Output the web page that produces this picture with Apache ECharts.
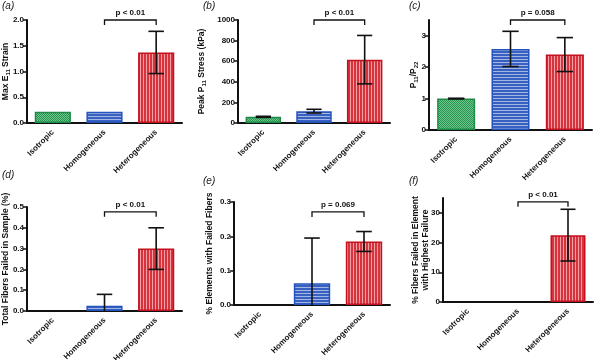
<!DOCTYPE html>
<html>
<head>
<meta charset="utf-8">
<script src="https://cdn.jsdelivr.net/npm/echarts@6/dist/echarts.min.js"></script>
<style>
  html, body { margin: 0; padding: 0; background: #fff; }
  #chart { width: 600px; height: 360px; }
</style>
</head>
<body>
<div id="chart"></div>
<script>
const categories = ['Isotropic', 'Homogeneous', 'Heterogeneous'];

// mean and error (SD) per panel
const strainMean = [0.22, 0.22, 1.37];
const strainSd = [0, 0, 0.41];
const stressMean = [60, 115, 615];
const stressSd = [5, 18, 235];
const ratioMean = [1.0, 2.58, 2.4];
const ratioSd = [0.01, 0.56, 0.54];
const totalFailMean = [0, 0.025, 0.30];
const totalFailSd = [0, 0.055, 0.10];
const elemFailMean = [0, 0.063, 0.185];
const elemFailSd = [0, 0.132, 0.029];
const highFailMean = [0, 0, 22.5];
const highFailSd = [0, 0, 8.7];

const pLabels = ['p < 0.01', 'p < 0.01', 'p = 0.058', 'p < 0.01', 'p = 0.069', 'p < 0.01'];
const bracketLevel = [2.0, 1000, 3.5, 0.477, 0.271, 33.7];

const yMax = [2, 1000, 3.5, 0.5, 0.3, 35];
const yInterval = [0.5, 200, 1, 0.1, 0.1, 10];
const yDecimals = [1, 0, 0, 1, 1, 0];
const panelLetters = ['(a)', '(b)', '(c)', '(d)', '(e)', '(f)'];

const FONT = '"Liberation Sans", Arial, sans-serif';

function makePattern(w, h, draw) {
  const c = document.createElement('canvas');
  c.width = w; c.height = h;
  draw(c.getContext('2d'));
  return { image: c, repeat: 'repeat' };
}
const greenFill = makePattern(2, 2, function (g) {
  g.fillStyle = '#72c48f'; g.fillRect(0, 0, 2, 2);
  g.fillStyle = '#25944f'; g.fillRect(0, 0, 1, 1); g.fillRect(1, 1, 1, 1);
});
const blueFill = makePattern(1, 3, function (g) {
  g.fillStyle = '#3860c0'; g.fillRect(0, 0, 1, 3);
  g.fillStyle = '#a3b6e4'; g.fillRect(0, 2, 1, 1);
});
const redFill = makePattern(3, 1, function (g) {
  g.fillStyle = '#d6333d'; g.fillRect(0, 0, 3, 1);
  g.fillStyle = '#f0a0a4'; g.fillRect(2, 0, 1, 1);
});
const barColors = [greenFill, blueFill, redFill];
const barBorders = ['#1f8a47', '#2454bd', '#c4101f'];

const panels = [
  { mean: strainMean, sd: strainSd, name: 'Max E{sub|11} Strain', gap: 16 },
  { mean: stressMean, sd: stressSd, name: 'Peak P{sub|11} Stress (kPa)', gap: 31 },
  { mean: ratioMean, sd: ratioSd, name: 'P{sub|11}/P{sub|22}', gap: 10 },
  { mean: totalFailMean, sd: totalFailSd, name: 'Total Fibers Failed in Sample (%)', gap: 16 },
  { mean: elemFailMean, sd: elemFailSd, name: '% Elements with Failed Fibers', gap: 19 },
  { mean: highFailMean, sd: highFailSd, name: '% Fibers Failed in Element\nwith Highest Failure', gap: 12 }
];

const grids = [
  { left: 27, top: 20, width: 155, height: 103 },
  { left: 238, top: 20, width: 152, height: 103 },
  { left: 429, top: 20, width: 163, height: 110 },
  { left: 27, top: 207, width: 155, height: 104 },
  { left: 234, top: 202, width: 156, height: 103 },
  { left: 443, top: 198, width: 150, height: 104 }
];

const letterPos = [[2, 1], [203, 1], [409, 1], [2, 170], [203, 176], [409, 176]];

function errorBarItem(params, api) {
  const x = api.value(0), lo = api.value(1), hi = api.value(2);
  if (hi === lo) return;
  const half = api.size([1, 0])[0] * 0.15;
  const top = api.coord([x, hi]);
  const bot = api.coord([x, Math.max(lo, 0)]);
  const style = { stroke: '#111', lineWidth: 1.6 };
  const children = [
    { type: 'line', shape: { x1: top[0], y1: top[1], x2: bot[0], y2: bot[1] }, style: style },
    { type: 'line', shape: { x1: top[0] - half, y1: top[1], x2: top[0] + half, y2: top[1] }, style: style }
  ];
  if (lo >= 0) {
    children.push({ type: 'line', shape: { x1: bot[0] - half, y1: bot[1], x2: bot[0] + half, y2: bot[1] }, style: style });
  }
  return { type: 'group', children: children };
}

function bracketItem(params, api) {
  const p1 = api.coord([api.value(0), api.value(2)]);
  const p2 = api.coord([api.value(1), api.value(2)]);
  const label = pLabels[params.seriesIndex / 3 | 0];
  return {
    type: 'group',
    children: [
      { type: 'polyline', shape: { points: [[p1[0], p1[1] + 5], [p1[0], p1[1]], [p2[0], p2[1]], [p2[0], p2[1] + 5]] },
        style: { stroke: '#111', lineWidth: 1.3, fill: null } },
      { type: 'text', x: (p1[0] + p2[0]) / 2, y: p1[1] - 3,
        style: { text: label, font: 'bold 8px ' + FONT, fill: '#111', align: 'center', verticalAlign: 'bottom' } }
    ]
  };
}

const option = {
  animation: false,
  backgroundColor: '#fff',
  textStyle: { fontFamily: FONT },
  grid: grids.map(function (g) { return Object.assign({ containLabel: false, outerBoundsMode: 'none' }, g); }),
  xAxis: [],
  yAxis: [],
  series: [],
  graphic: panelLetters.map(function (t, i) {
    return { type: 'text', left: letterPos[i][0], top: letterPos[i][1],
      style: { text: t, font: 'italic 10px ' + FONT, fill: '#222' } };
  })
};

panels.forEach(function (p, i) {
  const ticks = [];
  for (let v = 0; v <= yMax[i] + 1e-9; v += yInterval[i]) ticks.push(+v.toFixed(3));
  option.xAxis.push({
    type: 'category', gridIndex: i, data: categories,
    axisLine: { lineStyle: { color: '#111', width: 2 } },
    axisTick: { alignWithLabel: true, length: 4, lineStyle: { color: '#111', width: 1.5 } },
    axisLabel: { rotate: 45, interval: 0, margin: 8, color: '#111', fontSize: 8, fontWeight: 'bold', fontFamily: FONT }
  });
  option.yAxis.push({
    type: 'value', gridIndex: i, min: 0, max: yMax[i], interval: yInterval[i],
    splitLine: { show: false },
    axisLine: { show: true, lineStyle: { color: '#111', width: 2 } },
    axisTick: { show: true, length: 4, lineStyle: { color: '#111', width: 1.5 }, customValues: ticks },
    axisLabel: { color: '#111', fontSize: 8, fontWeight: 'bold', fontFamily: FONT, margin: 3, customValues: ticks,
      formatter: function (v) { return v.toFixed(yDecimals[i]); } },
    name: p.name, nameLocation: 'middle', nameGap: p.gap, nameMoveOverlap: false,
    nameTextStyle: { color: '#111', fontSize: 8.5, fontWeight: 'bold', fontFamily: FONT, lineHeight: 10,
      rich: { sub: { fontSize: 6, fontWeight: 'bold', fontFamily: FONT, color: '#111', padding: [5, 0, 0, 0] } } }
  });
  option.series.push({
    type: 'bar', xAxisIndex: i, yAxisIndex: i, barWidth: '70%',
    data: p.mean.map(function (v, k) {
      return { value: v, itemStyle: { color: barColors[k], borderColor: barBorders[k], borderWidth: v === 0 ? 0 : 1.5 } };
    })
  });
  option.series.push({
    type: 'custom', xAxisIndex: i, yAxisIndex: i, z: 5,
    renderItem: errorBarItem,
    encode: { x: 0, y: [1, 2] },
    data: p.mean.map(function (v, k) { return [k, v - p.sd[k], v + p.sd[k]]; })
  });
  option.series.push({
    type: 'custom', xAxisIndex: i, yAxisIndex: i, z: 6,
    renderItem: bracketItem,
    encode: { x: [0, 1], y: 2 },
    data: [[1, 2, bracketLevel[i]]]
  });
});

const myChart = echarts.init(document.getElementById('chart'));
myChart.setOption(option);
window.addEventListener('resize', function () {
  myChart.resize();
});
</script>
</body>
</html>
